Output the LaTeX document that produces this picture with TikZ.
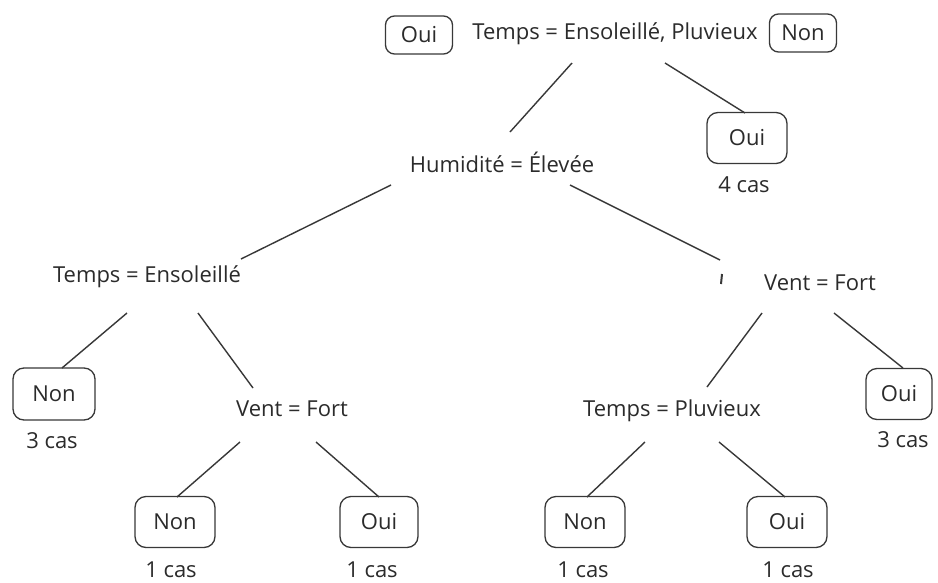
\documentclass[tikz,border=0pt]{standalone}
\usepackage{fontspec}
\setmainfont{Open Sans}
\usetikzlibrary{calc}
\definecolor{ink}{HTML}{2B2B2B}
\definecolor{wire}{HTML}{383838}
\begin{document}
\begin{tikzpicture}[x=1pt,y=-1pt,
  every node/.style={font=\fontsize{22}{26}\selectfont, text=ink, inner sep=0pt},
  test/.style={},
  leaf/.style={draw=wire, line width=1.3pt, rounded corners=11pt,
    minimum width=80pt, minimum height=51pt},
  smallleaf/.style={leaf, rounded corners=9pt, minimum width=67pt, minimum height=38pt},
  count/.style={},
  edge/.style={draw=wire, line width=1.4pt}]
\useasboundingbox[fill=white] (0,0) rectangle (938,582);

% root split and its two outcome boxes
\node[test] (root) at (615,34) {Temps = Ensoleillé, Pluvieux};
\node[smallleaf] (topoui) at (419,35) {Oui};
\node[smallleaf] (topnon) at (803,33) {Non};

% second level
\node[test] (hum) at (502,162) {Humidité = Élevée};
\node[leaf] (oui4) at (747,138) {Oui};
\node[count] (cas4) at (744,185) {4 cas};

% third level
\node[test] (tens) at (147,277) {Temps = Ensoleillé};
\node[test] (ventR) at (820,283) {Vent = Fort};

% fourth level
\node[leaf, minimum width=82pt, minimum height=52pt] (nonL) at (54,394) {Non};
\node[count] (cas3L) at (52,441) {3 cas};
\node[test] (ventL) at (292,409) {Vent = Fort};
\node[test] (pluv) at (672,411) {Temps = Pluvieux};
\node[leaf, minimum width=66pt] (ouiR) at (899,394) {Oui};
\node[count] (cas3R) at (903,440) {3 cas};

% bottom leaves
\node[leaf] (n1) at (175,522) {Non};
\node[leaf, minimum width=78pt] (o1) at (379,522) {Oui};
\node[leaf] (n2) at (585,522) {Non};
\node[leaf] (o2) at (787,522) {Oui};
\node[count] (c1) at (171,570) {1 cas};
\node[count] (c2) at (372,570) {1 cas};
\node[count] (c3) at (583,570) {1 cas};
\node[count] (c4) at (788,570) {1 cas};

% branches
\draw[edge] ($(root)+(-43,29)$) -- ($(hum)+(8,-30)$);
\draw[edge] ($(root)+(50,29)$) -- ($(oui4)+(-2,-25)$);
\draw[edge] ($(hum)+(-111,23)$) -- ($(tens)+(94,-18)$);
\draw[edge] ($(hum)+(68,23)$) -- ($(ventR)+(-100,-23)$);
\draw[edge, line width=2pt] ($(ventR)+(-98,-9)$) -- ($(ventR)+(-99,1)$);
\draw[edge] ($(tens)+(-20,36)$) -- ($(nonL)+(8,-26)$);
\draw[edge] ($(tens)+(51,36)$) -- ($(ventL)+(-39,-21)$);
\draw[edge] ($(ventL)+(-52,33)$) -- ($(n1)+(2,-25)$);
\draw[edge] ($(ventL)+(24,33)$) -- ($(o1)+(0,-25)$);
\draw[edge] ($(ventR)+(-58,30)$) -- ($(pluv)+(35,-24)$);
\draw[edge] ($(ventR)+(14,30)$) -- ($(ouiR)+(4,-26)$);
\draw[edge] ($(pluv)+(-27,31)$) -- ($(n2)+(2,-25)$);
\draw[edge] ($(pluv)+(47,31)$) -- ($(o2)+(-2,-25)$);
\end{tikzpicture}
\end{document}
